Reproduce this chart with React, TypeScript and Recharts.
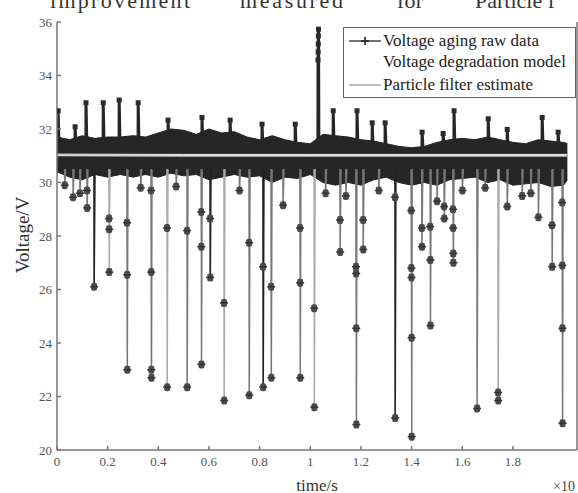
import React from "react";
import { ComposedChart, Area, Line, XAxis, YAxis } from "recharts";

// time in units of 1e4 s, voltage in V
const bandTime = [
  0, 0.05, 0.1, 0.15, 0.2, 0.25, 0.3, 0.35, 0.4, 0.45, 0.5, 0.55, 0.6, 0.65,
  0.7, 0.75, 0.8, 0.85, 0.9, 0.95, 1.0, 1.05, 1.1, 1.15, 1.2, 1.25, 1.3, 1.35,
  1.4, 1.45, 1.5, 1.55, 1.6, 1.65, 1.7, 1.75, 1.8, 1.85, 1.9, 1.95, 2.0, 2.015,
];
const bandHigh = [
  31.7, 31.6, 31.75, 31.65, 31.7, 31.7, 31.75, 31.7, 31.85, 32.0, 31.95, 31.8,
  32.0, 31.85, 31.9, 31.7, 31.6, 31.75, 31.6, 31.5, 31.45, 31.8, 31.75, 31.7,
  31.6, 31.55, 31.45, 31.35, 31.3, 31.35, 31.5, 31.6, 31.65, 31.6, 31.7, 31.6,
  31.5, 31.45, 31.6, 31.55, 31.5, 31.45,
];
const bandLow = [
  30.4, 30.2, 30.1, 30.3, 30.2, 30.3, 30.2, 30.3, 30.2, 30.35, 30.25, 30.3,
  30.1, 30.2, 30.3, 30.2, 30.25, 30.0, 30.2, 30.15, 30.3, 30.0, 29.9, 30.0,
  29.9, 30.1, 30.2, 30.0, 29.9, 30.0, 29.9, 30.1, 30.15, 30.2, 30.0, 30.1,
  29.9, 29.95, 30.0, 29.85, 29.9, 30.1,
];

// upward spikes of the raw data
const spikeTimes = [
  0.004, 0.071, 0.114, 0.182, 0.245, 0.32, 0.438, 0.572, 0.683, 0.809, 0.94,
  1.03, 1.09, 1.184, 1.244, 1.295, 1.441, 1.524, 1.567, 1.702, 1.777, 1.915,
  1.978,
];
const spikeLevels = [
  [32.7], [32.1], [33.0], [33.0], [33.1], [33.0], [32.35], [32.45], [32.35],
  [32.2], [32.2], [34.6, 34.9, 35.2, 35.5, 35.75], [32.7], [32.7], [32.25],
  [32.25], [31.9], [31.85], [32.7], [32.4], [32.0], [32.45], [31.9],
];

// downward dips of the raw data (marker levels, lowest last)
const dipTimes = [
  0.03, 0.063, 0.09, 0.118, 0.146, 0.205, 0.276, 0.33, 0.371, 0.434, 0.47,
  0.513, 0.569, 0.604, 0.659, 0.72, 0.758, 0.813, 0.845, 0.892, 0.959, 1.015,
  1.06, 1.117, 1.14, 1.18, 1.208, 1.27, 1.334, 1.398, 1.44, 1.473, 1.5, 1.528,
  1.563, 1.6, 1.658, 1.69, 1.741, 1.777, 1.836, 1.87, 1.9, 1.954, 1.994,
];
const dipLevels = [
  [29.9], [29.45], [29.6], [29.7, 29.05], [26.1], [28.65, 28.25, 26.65],
  [28.5, 26.55, 23.0], [29.8], [29.7, 26.65, 23.0, 22.7], [28.3, 22.35],
  [29.85], [28.2, 22.35], [28.9, 27.6, 23.2], [28.65, 26.45], [25.5, 21.85],
  [29.7], [27.75, 22.05], [26.85, 22.35], [26.1, 22.7], [29.15],
  [28.3, 26.25, 22.7], [25.3, 21.6], [29.6], [28.6, 27.4], [29.5],
  [26.85, 26.6, 24.55, 20.95], [28.6, 27.5], [29.7], [29.45, 21.2],
  [28.95, 26.8, 26.45, 24.2, 20.5], [28.3, 27.6], [28.35, 27.1, 24.65],
  [29.3], [29.1, 28.65], [29.0, 28.3, 27.35, 27.0], [29.7], [21.55], [29.8],
  [22.15, 21.85], [29.1], [29.5], [29.6], [28.7], [28.4, 26.85],
  [29.25, 26.9, 24.55, 21.0],
];
const dipShade = [
  "m", "m", "m", "m", "d", "l", "m", "m", "m", "l", "m", "m", "m", "d", "l",
  "m", "m", "d", "m", "m", "m", "l", "m", "m", "m", "m", "m", "m", "d", "m",
  "m", "m", "m", "m", "m", "m", "m", "m", "l", "m", "m", "m", "m", "m", "m",
];

const estimateTime = [0, 0.5, 1.0, 1.5, 2.013];
const estimateVolt = [31.02, 31.0, 31.0, 31.0, 31.0];
const modelVolt = [31.06, 31.05, 31.05, 31.05, 31.05];

const xTicks = [0, 0.2, 0.4, 0.6, 0.8, 1, 1.2, 1.4, 1.6, 1.8];
const yTicks = [20, 22, 24, 26, 28, 30, 32, 34, 36];

const serif = "'Liberation Serif', 'DejaVu Serif', serif";

type Pt = { t: number; v: number | null; mark?: boolean };

// one vertical excursion per event, broken apart with nulls
const eventPoints = (
  times: number[],
  levels: number[][],
  base: number,
  keep: (i: number) => boolean
) => {
  const pts: Pt[] = [];
  times.forEach((t, i) => {
    if (!keep(i)) return;
    pts.push({ t, v: base });
    levels[i].forEach((v, k) =>
      pts.push({ t: t + 0.0005 * (k + 1), v, mark: true })
    );
    pts.push({ t: t + 0.004, v: base });
    pts.push({ t: t + 0.0045, v: null });
  });
  return pts;
};

const bandData = bandTime.map((t, i) => ({ t, band: [bandLow[i], bandHigh[i]] }));
const spikeData = eventPoints(spikeTimes, spikeLevels, 31.3, () => true);
const dipMid = eventPoints(dipTimes, dipLevels, 30.5, (i) => dipShade[i] === "m");
const dipDark = eventPoints(dipTimes, dipLevels, 30.5, (i) => dipShade[i] === "d");
const dipLight = eventPoints(dipTimes, dipLevels, 30.5, (i) => dipShade[i] === "l");
const estimateData = estimateTime.map((t, i) => ({
  t,
  pf: estimateVolt[i],
  model: modelVolt[i],
}));

const Marker = (props: any) => {
  const { cx, cy, payload, index } = props;
  if (!payload || !payload.mark || cx == null || cy == null) {
    return <g key={`n-${index}`} />;
  }
  return (
    <g key={`m-${index}`}>
      <rect x={cx - 3} y={cy - 4} width={6} height={8} rx={2} fill="#4a4a4a" />
      <path d={`M${cx - 4} ${cy}H${cx + 4}`} stroke="#333" strokeWidth={1.5} />
    </g>
  );
};

const SpikeMarker = (props: any) => {
  const { cx, cy, payload, index } = props;
  if (!payload || !payload.mark || cx == null || cy == null) {
    return <g key={`n-${index}`} />;
  }
  return <rect key={`s-${index}`} x={cx - 2.5} y={cy - 2} width={5} height={5} fill="#2a2a2a" />;
};

const fmtX = (v: number) => (v === 0 ? "0" : v === 1 ? "1" : String(v));
const tickStyle = { fill: "#555", fontSize: 13, fontFamily: serif };

const LegendBox = () => (
  <div
    style={{
      position: "absolute",
      left: 343,
      top: 27,
      width: 231,
      height: 69,
      border: "1.5px solid #666",
      background: "#fff",
      fontFamily: serif,
      fontSize: 17,
      color: "#222",
    }}
  >
    {[
      { label: "Voltage aging raw data", color: "#444", plus: true, top: 2 },
      { label: "Voltage degradation model", color: "#fff", plus: false, top: 23 },
      { label: "Particle filter estimate", color: "#aaa", plus: false, top: 46 },
    ].map((row) => (
      <div
        key={row.label}
        style={{ position: "absolute", left: 0, top: row.top, height: 22, width: 231 }}
      >
        <svg width={40} height={22} style={{ position: "absolute", left: 3, top: 0 }}>
          <line x1={2} y1={11} x2={34} y2={11} stroke={row.color} strokeWidth={1.5} />
          {row.plus && (
            <path d="M14 11H22M18 7V15" stroke="#333" strokeWidth={1.8} />
          )}
        </svg>
        <span style={{ position: "absolute", left: 39, top: 1, whiteSpace: "nowrap" }}>
          {row.label}
        </span>
      </div>
    ))}
  </div>
);

export default function App() {
  return (
    <div style={{ position: "absolute", left: 0, top: 0, width: 578, height: 493, background: "#fff" }}>
      <ComposedChart
        width={578}
        height={493}
        margin={{ top: 22, right: 0, bottom: 0, left: 0 }}
      >
        <XAxis
          type="number"
          dataKey="t"
          domain={[0, 2.053]}
          ticks={xTicks}
          tickFormatter={fmtX}
          allowDataOverflow
          height={43}
          tickSize={-4}
          tickMargin={11}
          stroke="#777"
          strokeWidth={1.5}
          tick={tickStyle}
        />
        <XAxis
          xAxisId="top"
          orientation="top"
          type="number"
          domain={[0, 2.053]}
          ticks={xTicks}
          allowDataOverflow
          height={0}
          tickSize={-4}
          tick={false}
          stroke="#777"
          strokeWidth={1.5}
        />
        <YAxis
          type="number"
          domain={[20, 36]}
          ticks={yTicks}
          allowDataOverflow
          width={57}
          tickSize={-4}
          tickMargin={9}
          stroke="#777"
          strokeWidth={1.5}
          tick={tickStyle}
        />
        <YAxis
          yAxisId="right"
          orientation="right"
          type="number"
          domain={[20, 36]}
          ticks={yTicks}
          allowDataOverflow
          width={1}
          tickSize={-4}
          tick={false}
          stroke="#777"
          strokeWidth={1.5}
        />
        <Area
          data={bandData}
          dataKey="band"
          type="linear"
          stroke="#222"
          strokeWidth={1}
          fill="#262626"
          fillOpacity={1}
          isAnimationActive={false}
        />
        <Line data={dipLight} dataKey="v" stroke="#aaa" strokeWidth={1.5} dot={Marker} isAnimationActive={false} />
        <Line data={dipMid} dataKey="v" stroke="#777" strokeWidth={1.5} dot={Marker} isAnimationActive={false} />
        <Line data={dipDark} dataKey="v" stroke="#222" strokeWidth={1.6} dot={Marker} isAnimationActive={false} />
        <Line data={spikeData} dataKey="v" stroke="#262626" strokeWidth={3} dot={SpikeMarker} isAnimationActive={false} />
        <Line data={estimateData} dataKey="model" stroke="#fff" strokeWidth={1} dot={false} isAnimationActive={false} />
        <Line data={estimateData} dataKey="pf" stroke="#d4d4d4" strokeWidth={2} dot={false} isAnimationActive={false} />
      </ComposedChart>
      <LegendBox />
      <svg
        width={578}
        height={493}
        style={{ position: "absolute", left: 0, top: 0, pointerEvents: "none" }}
        fontFamily={serif}
      >
        <g fill="#333" fontSize={22}>
          <text x={50} y={8} textLength={140}>improvement</text>
          <text x={240} y={8} textLength={103}>measured</text>
          <text x={397} y={8} textLength={26}>for</text>
          <text x={475} y={8}>Particle f</text>
        </g>
        <text
          x={22}
          y={235}
          transform="rotate(-90 22 235)"
          textAnchor="middle"
          dominantBaseline="central"
          fontSize={19}
          fill="#333"
        >
          Voltage/V
        </text>
        <text x={317} y={485} textAnchor="middle" dominantBaseline="central" fontSize={17} fill="#333">
          time/s
        </text>
        <text x={553} y={491} fontSize={14} fill="#444">
          ×10
        </text>
      </svg>
    </div>
  );
}
